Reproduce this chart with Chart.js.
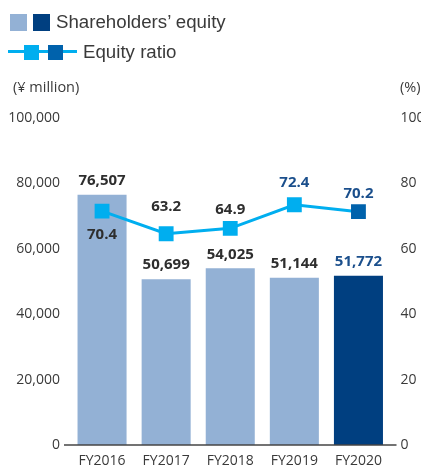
<!DOCTYPE html>
<html>
<head>
<meta charset="utf-8">
<script src="https://cdn.jsdelivr.net/npm/chart.js@4"></script>
<style>
    body { margin: 0; background: #fff; }
    #wrap { position: relative; width: 421px; height: 468px; font-family: "Liberation Sans", Arial, sans-serif; color: #3a3a3a; }
    #wrap canvas { position: absolute; left: 0; top: 0; }
    .sw { position: absolute; }
    .txt { position: absolute; white-space: nowrap; }
</style>
</head>
<body>
<div id="wrap">
    <canvas id="chart" width="421" height="468"></canvas>

    <div class="sw" style="left:10px; top:14px; width:17px; height:17px; background:#93b1d5;"></div>
    <div class="sw" style="left:33px; top:14px; width:17px; height:17px; background:#003f80;"></div>
    <div class="txt" style="left:56px; top:11px; font-size:18.7px;">Shareholders’ equity</div>

    <div class="sw" style="left:8px; top:50px; width:69px; height:3px; background:#00aeef;"></div>
    <div class="sw" style="left:24px; top:45px; width:15px; height:15px; background:#00aeef;"></div>
    <div class="sw" style="left:48px; top:45px; width:15px; height:15px; background:#0062ac;"></div>
    <div class="txt" style="left:83px; top:41px; font-size:18.7px;">Equity ratio</div>

    <div class="txt" style="left:13px; top:77px; font-size:14.5px; font-family:'Open Sans', sans-serif;">(¥ million)</div>
    <div class="txt" style="left:400px; top:77px; font-size:14.5px; font-family:'Open Sans', sans-serif;">(%)</div>
</div>

<script>
const years = ["FY2016", "FY2017", "FY2018", "FY2019", "FY2020"];
const equity = [76507, 50699, 54025, 51144, 51772];
const ratio = [70.4, 63.2, 64.9, 72.4, 70.2];

const equityMax = 100000;
const equityStep = 20000;
const ratioMax = 100;
const ratioStep = 20;

const textDark = "#2e2e2e";
const textBlue = "#1b4f8c";

// label placement tweaks for the ratio values (px from the point)
const ratioLabelShift = [24, -27, -19, -22, -18];
const ratioLabelColor = [textDark, textDark, textDark, textBlue, textBlue];

const valueLabels = {
    id: "valueLabels",
    afterDatasetsDraw(chart) {
        const ctx = chart.ctx;
        ctx.save();
        ctx.font = "bold 15px 'Open Sans', sans-serif";
        ctx.textAlign = "center";
        ctx.textBaseline = "middle";

        chart.getDatasetMeta(0).data.forEach((bar, i) => {
            ctx.fillStyle = i === equity.length - 1 ? textBlue : textDark;
            ctx.fillText(equity[i].toLocaleString("en-US"), bar.x, bar.y - 14);
        });

        chart.getDatasetMeta(1).data.forEach((pt, i) => {
            ctx.fillStyle = ratioLabelColor[i];
            ctx.fillText(ratio[i].toFixed(1), pt.x, pt.y + ratioLabelShift[i]);
        });

        // bottom axis line, a bit wider than the plot
        const area = chart.chartArea;
        ctx.strokeStyle = "#444";
        ctx.lineWidth = 1.5;
        ctx.beginPath();
        ctx.moveTo(area.left - 6, area.bottom);
        ctx.lineTo(area.right + 6, area.bottom);
        ctx.stroke();
        ctx.restore();
    }
};

const tickFont = { family: "'Open Sans', sans-serif", size: 14 };
const noGrid = { display: false, drawTicks: false };

new Chart(document.getElementById("chart"), {
    data: {
        labels: years,
        datasets: [
            {
                type: "bar",
                data: equity,
                yAxisID: "y",
                backgroundColor: equity.map((v, i) => i === equity.length - 1 ? "#003f80" : "#93b1d5"),
                barPercentage: 0.765,
                categoryPercentage: 1,
                order: 1
            },
            {
                type: "line",
                data: ratio,
                yAxisID: "yLine",
                borderColor: "#00aeef",
                borderWidth: 3,
                pointStyle: "rect",
                pointRadius: 10.5,
                pointBorderWidth: 0,
                pointBackgroundColor: ratio.map((v, i) => i === ratio.length - 1 ? "#0062ac" : "#00aeef"),
                pointBorderColor: ratio.map((v, i) => i === ratio.length - 1 ? "#0062ac" : "#00aeef"),
                order: 0
            }
        ]
    },
    options: {
        responsive: false,
        animation: false,
        layout: { padding: { top: 118, left: 0, right: 0, bottom: 0 } },
        plugins: {
            legend: { display: false },
            tooltip: { enabled: false }
        },
        scales: {
            x: {
                grid: noGrid,
                border: { display: false },
                ticks: { font: tickFont, color: "#3a3a3a", padding: 8 },
                afterFit: scale => { scale.height = 23; }
            },
            y: {
                position: "left",
                min: 0,
                max: equityMax,
                grid: noGrid,
                border: { display: false },
                ticks: {
                    stepSize: equityStep,
                    font: tickFont,
                    color: "#3a3a3a",
                    padding: 10,
                    callback: v => v.toLocaleString("en-US")
                },
                afterFit: scale => { scale.width = 70; }
            },
            y2: {
                position: "right",
                min: 0,
                max: ratioMax,
                grid: noGrid,
                border: { display: false },
                ticks: { stepSize: ratioStep, font: tickFont, color: "#3a3a3a", padding: 10 },
                afterFit: scale => { scale.width = 30.5; }
            },
            yLine: {
                display: false,
                min: -4,
                max: ratioMax
            }
        }
    },
    plugins: [valueLabels]
});
</script>
</body>
</html>
